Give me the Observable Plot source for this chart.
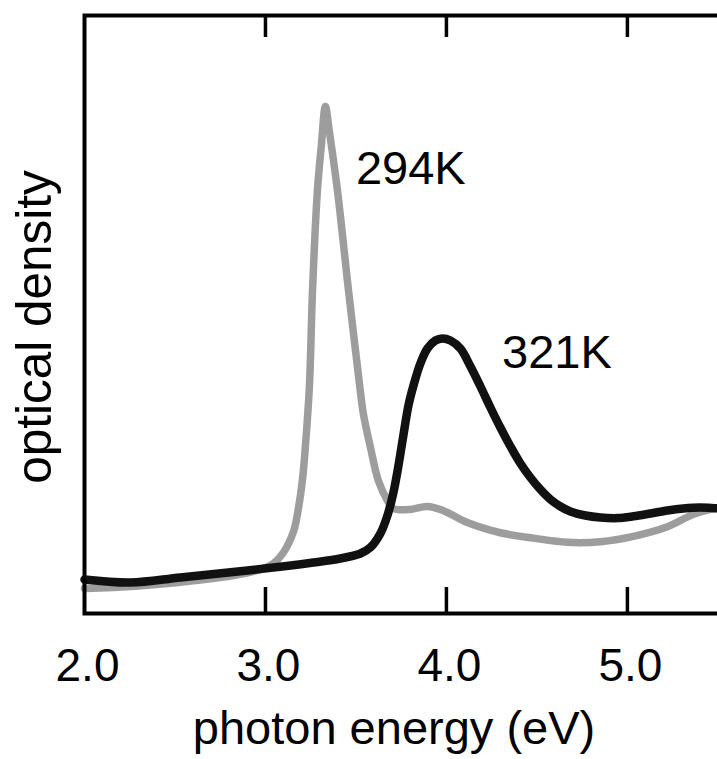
<!DOCTYPE html>
<html>
<head>
<meta charset="utf-8">
<script src="https://cdn.jsdelivr.net/npm/d3@7"></script>
<script src="https://cdn.jsdelivr.net/npm/@observablehq/plot@0.6"></script>
<style>
html, body { margin: 0; padding: 0; background: #fff; overflow: hidden; }
</style>
</head>
<body>
<div id="chart"></div>
<script>
// 294K spectrum (photon energy in eV, optical density in arbitrary units)
const energy294 = [2.0, 2.16, 2.459, 2.823, 2.972, 3.044, 3.099, 3.155, 3.182, 3.204, 3.221, 3.243, 3.26, 3.287, 3.309, 3.331, 3.354, 3.398, 3.459, 3.519, 3.541, 3.58, 3.624, 3.674, 3.707, 3.801, 3.895, 3.983, 4.116, 4.298, 4.481, 4.669, 4.851, 5.033, 5.221, 5.365, 5.497, 5.519];
const od294 = [4.2, 4.35, 5.02, 6.35, 7.36, 8.36, 10.2, 13.71, 17.56, 22.24, 28.1, 38.1, 54.0, 70.7, 78.3, 84.8, 80.4, 70.7, 54.0, 38.5, 33.4, 27.8, 22.2, 18.9, 17.56, 17.4, 17.9, 17.2, 15.2, 13.5, 12.6, 11.9, 12.0, 12.9, 14.5, 16.6, 17.7, 17.9];

// 321K spectrum
const energy321 = [2.0, 2.254, 2.53, 2.901, 3.265, 3.414, 3.525, 3.58, 3.635, 3.674, 3.707, 3.735, 3.762, 3.79, 3.818, 3.856, 3.895, 3.939, 3.978, 4.022, 4.077, 4.133, 4.188, 4.243, 4.298, 4.354, 4.409, 4.464, 4.519, 4.575, 4.63, 4.685, 4.768, 4.851, 4.945, 5.033, 5.127, 5.221, 5.309, 5.403, 5.497, 5.519];
const od321 = [5.69, 5.18, 6.02, 7.19, 8.53, 9.2, 10.03, 11.04, 13.38, 16.39, 20.23, 24.75, 29.77, 34.78, 38.13, 41.81, 44.31, 45.65, 45.99, 45.65, 44.31, 41.3, 37.96, 34.45, 31.1, 27.93, 25.08, 22.74, 20.74, 19.06, 17.89, 17.06, 16.39, 16.05, 15.95, 16.25, 16.72, 17.22, 17.56, 17.73, 17.6, 17.6];

// Axis ticks
const xTickLabels = [2, 3, 4, 5];
const xInnerTicks = [3, 4, 5];

// Series annotations
const seriesNames = ["294K", "321K"];
const seriesLabelEnergy = [3.50, 4.307];
const seriesLabelOD = [71.9, 41.1];

const xTitle = "photon energy (eV)";
const yTitle = "optical density";

const d294 = energy294.map((e, i) => ({e, od: od294[i]}));
const d321 = energy321.map((e, i) => ({e, od: od321[i]}));
const labels = seriesNames.map((t, i) => ({t, e: seriesLabelEnergy[i], od: seriesLabelOD[i]}));

const W = 717, H = 759;
const mTop = 15, mBottom = 146, mLeft = 84, mRight = -4;
const frameH = H - mTop - mBottom;
const font = "'Liberation Sans', Arial, Helvetica, sans-serif";

const chart = Plot.plot({
  width: W,
  height: H,
  marginTop: mTop,
  marginBottom: mBottom,
  marginLeft: mLeft,
  marginRight: mRight,
  x: {domain: [2, 5.52], axis: null},
  y: {domain: [0, 100], axis: null},
  style: {fontFamily: font, background: "#fff", color: "#000", overflow: "hidden"},
  marks: [
    Plot.line(d294, {x: "e", y: "od", stroke: "#9d9d9d", strokeWidth: 7.5, curve: "catmull-rom", strokeLinejoin: "round", strokeLinecap: "round"}),
    Plot.line(d321, {x: "e", y: "od", stroke: "#111", strokeWidth: 8.5, curve: "catmull-rom", strokeLinejoin: "round", strokeLinecap: "round"}),
    Plot.frame({stroke: "#000", strokeWidth: 4}),
    Plot.ruleX(xInnerTicks, {x: d => d, insetTop: frameH - 26, stroke: "#000", strokeWidth: 3.5}),
    Plot.ruleX(xInnerTicks, {x: d => d, insetBottom: frameH - 22, stroke: "#000", strokeWidth: 3.5}),
    Plot.text(xTickLabels, {x: d => d, text: d => d.toFixed(1), frameAnchor: "bottom", lineAnchor: "bottom", textAnchor: "middle", dy: 67, dx: 3, fontSize: 46, fill: "#000"}),
    Plot.text([xTitle], {text: d => d, frameAnchor: "bottom", lineAnchor: "bottom", textAnchor: "middle", dy: 130, dx: -9, fontSize: 47, fill: "#000"}),
    Plot.text([yTitle], {text: d => d, frameAnchor: "left", rotate: -90, lineAnchor: "bottom", textAnchor: "middle", dx: -34, dy: 12.5, fontSize: 49.5, fill: "#000"}),
    Plot.text(labels, {x: "e", y: "od", text: "t", textAnchor: "start", lineAnchor: "bottom", fontSize: 47, fill: "#000"})
  ]
});

document.getElementById("chart").appendChild(chart);
</script>
</body>
</html>
